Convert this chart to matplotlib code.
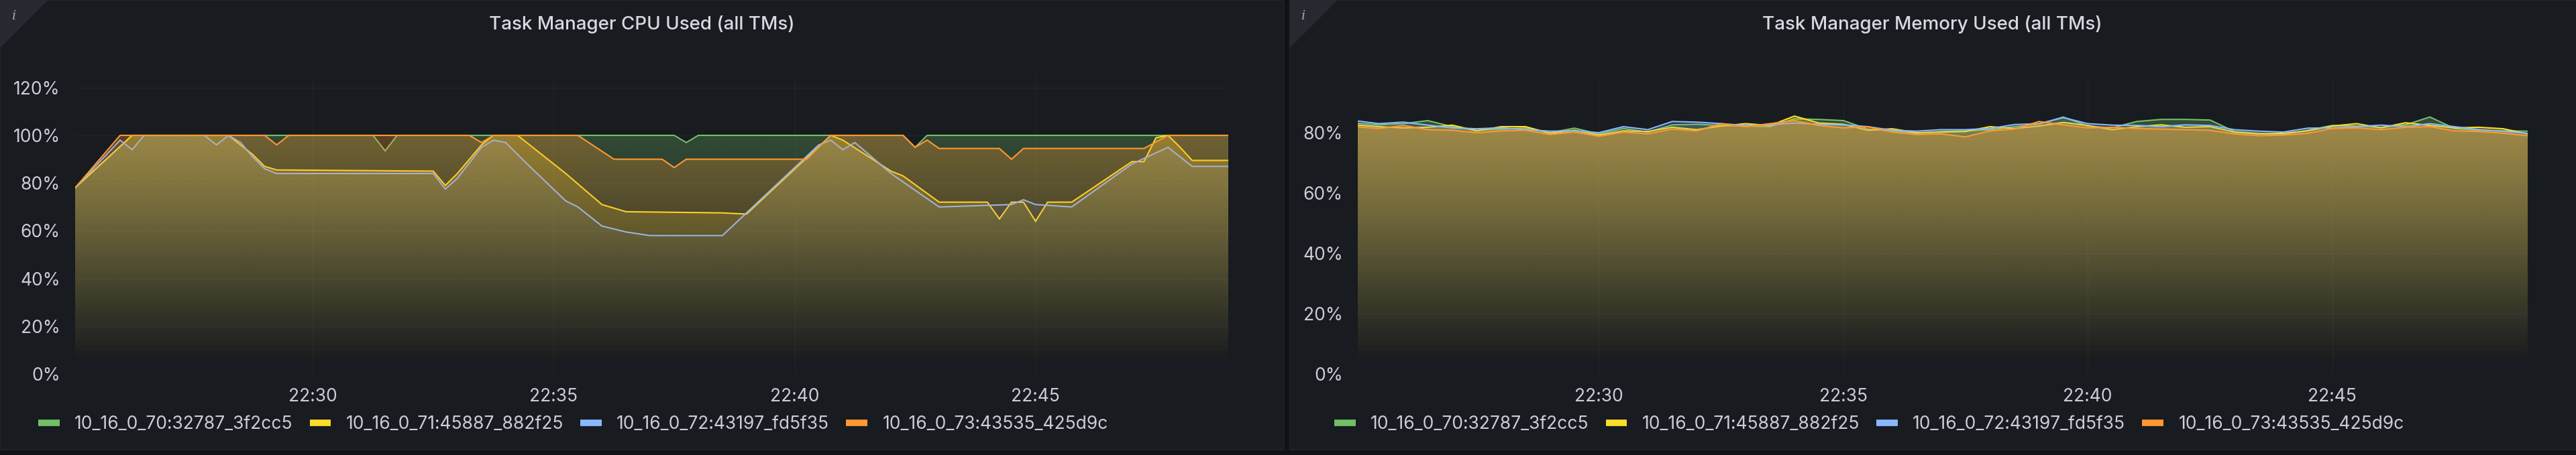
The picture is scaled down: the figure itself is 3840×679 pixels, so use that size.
import numpy as np
import matplotlib
matplotlib.use("Agg")
import matplotlib.pyplot as plt
from matplotlib.patches import Rectangle, Polygon, PathPatch
from matplotlib.lines import Line2D
from matplotlib.ticker import MultipleLocator, FuncFormatter
from matplotlib.colors import to_rgb

plt.rcParams['font.family'] = ['Inter', 'DejaVu Sans']

# series names and grafana classic palette
series_names = ["10_16_0_70:32787_3f2cc5", "10_16_0_71:45887_882f25",
                "10_16_0_72:43197_fd5f35", "10_16_0_73:43535_425d9c"]
series_colors = ["#73BF69", "#FADE2A", "#8AB8FF", "#FF9830"]

# ---- CPU used (%), breakpoints ----
cpu_70_t = ["22:25:04", "22:26:15", "22:31:15", "22:31:30", "22:31:45", "22:37:30", "22:37:45",
            "22:38:00", "22:42:15", "22:42:30", "22:42:45", "22:49:00"]
cpu_70_v = [78, 100, 100, 93.5, 100, 100, 97, 100, 100, 95, 100, 100]

cpu_71_t = ["22:25:04", "22:26:15", "22:28:15", "22:28:45", "22:29:00", "22:29:15", "22:32:30",
            "22:32:45", "22:33:00", "22:33:15", "22:33:30", "22:33:45", "22:34:15", "22:34:45",
            "22:35:15", "22:36:00", "22:36:30", "22:38:30", "22:39:00", "22:40:45", "22:41:00",
            "22:42:00", "22:42:15", "22:43:00", "22:44:00", "22:44:15", "22:44:30", "22:44:45",
            "22:45:00", "22:45:15", "22:45:45", "22:47:00", "22:47:15", "22:47:30", "22:47:45",
            "22:48:00", "22:48:15", "22:49:00"]
cpu_71_v = [78, 100, 100, 92, 87, 85.5, 85, 79, 84, 90, 96, 100, 100, 92,
            84, 71, 68, 67.5, 67, 100, 98, 85, 83, 72, 72, 65, 72, 72,
            64, 72, 72, 89, 89, 99, 100, 95, 89.5, 89.5]

cpu_72_t = ["22:25:04", "22:26:00", "22:26:15", "22:26:30", "22:27:45", "22:28:00", "22:28:15",
            "22:28:30", "22:28:45", "22:29:00", "22:29:15", "22:32:30", "22:32:45", "22:33:00",
            "22:33:30", "22:33:45", "22:34:00", "22:34:30", "22:35:15", "22:35:30", "22:36:00",
            "22:36:30", "22:37:00", "22:38:30", "22:40:30", "22:40:45", "22:41:00", "22:41:15",
            "22:42:00", "22:43:00", "22:44:30", "22:44:45", "22:45:00", "22:45:45", "22:47:00",
            "22:47:45", "22:48:15", "22:49:00"]
cpu_72_v = [78, 98, 94, 100, 100, 96, 100, 97, 91, 86, 84, 84, 77.5, 82,
            95, 98, 97, 87, 72.5, 70, 62, 59.5, 58, 58, 96, 98, 94, 97,
            84, 70, 71, 73, 71, 70, 88, 95, 87, 87]

cpu_73_t = ["22:25:04", "22:26:00", "22:29:00", "22:29:15", "22:29:30", "22:33:15", "22:33:30",
            "22:33:45", "22:35:30", "22:36:15", "22:37:15", "22:37:30", "22:37:45", "22:40:15",
            "22:40:45", "22:42:15", "22:42:30", "22:42:45", "22:43:00", "22:44:15", "22:44:30",
            "22:44:45", "22:47:15", "22:47:45", "22:49:00"]
cpu_73_v = [78, 100, 100, 96, 100, 100, 97, 100, 100, 90, 90, 86.5, 90, 90,
            100, 100, 95, 98, 94.5, 94.5, 90, 94.5, 94.5, 100, 100]

# ---- Memory used (%), sampled every 30 s from 22:25:00 ----
mem_start = "22:25:00"
mem_step_s = 30
mem_70 = [83.2, 82.6, 83.0, 84.0, 82.0, 80.8, 81.2, 81.5, 80.0, 81.5, 79.6, 81.4, 80.2, 82.6,
          82.8, 82.4, 82.2, 82.0, 84.6, 84.4, 84.0, 81.2, 80.6, 79.8, 80.4, 80.6, 81.0, 82.0,
          82.8, 85.2, 82.2, 81.6, 83.7, 84.4, 84.4, 84.2, 80.4, 79.8, 79.5, 80.8, 82.4, 82.2,
          81.8, 82.6, 85.2, 81.4, 80.8, 80.6, 80.5]
mem_71 = [82.6, 82.0, 81.6, 81.8, 82.5, 80.6, 82.0, 82.0, 79.8, 80.8, 79.2, 80.6, 80.4, 81.8,
          81.0, 82.2, 83.0, 82.4, 85.5, 83.2, 82.8, 80.8, 81.3, 80.0, 80.2, 80.4, 82.0, 81.4,
          82.2, 83.4, 82.4, 81.0, 82.0, 82.6, 81.8, 82.0, 80.2, 79.6, 79.8, 80.6, 82.2, 83.0,
          81.6, 83.3, 82.4, 81.6, 81.8, 81.3, 79.6]
mem_72 = [84.0, 83.0, 83.5, 82.5, 81.6, 81.3, 81.6, 81.0, 80.5, 80.6, 80.0, 82.0, 81.0, 83.7,
          83.5, 83.0, 82.4, 82.6, 83.2, 82.8, 82.6, 82.0, 80.8, 80.5, 81.0, 81.0, 81.4, 82.7,
          83.0, 85.0, 83.0, 82.5, 82.4, 82.0, 82.6, 82.4, 81.0, 80.5, 80.2, 81.5, 81.6, 82.0,
          82.5, 82.0, 83.0, 82.0, 81.0, 80.4, 79.8]
mem_73 = [82.0, 81.4, 82.4, 81.0, 80.8, 80.0, 80.6, 80.8, 79.4, 80.2, 78.8, 80.2, 79.6, 81.2,
          80.6, 83.0, 82.0, 83.0, 84.0, 82.4, 81.6, 82.0, 80.2, 79.4, 79.6, 78.6, 80.6, 81.2,
          83.7, 82.6, 81.6, 81.8, 81.4, 81.2, 81.0, 80.8, 79.6, 79.0, 79.2, 79.8, 81.4, 81.6,
          81.0, 81.8, 82.0, 80.6, 80.4, 79.8, 79.0]

range_from, range_to = "22:25:04", "22:49:00"


def to_min(s):
    # minutes after 22:25:00
    h, m, sec = [int(p) for p in s.split(":")]
    return (h * 60 + m + sec / 60.0) - (22 * 60 + 25)


W, H = 3840, 679
def fx(x):
    return x / W
def fy(y):
    return 1 - y / H

FS = 19
TXT = "#ccccdc"
PANEL = "#181b1f"
# per-series fill opacity at top of the plot (blue fill is faint in the screenshot)
fill_alpha = [0.38, 0.38, 0.20, 0.40]

fig = plt.figure(figsize=(W / 100, H / 100), dpi=100, facecolor="#111217")

# panel backgrounds + info corner
for x0, x1 in [(0, 1913), (1922, 3840)]:
    fig.add_artist(Rectangle((fx(x0), fy(671)), fx(x1 - x0), 671 / H, transform=fig.transFigure,
                             facecolor=PANEL, edgecolor="#22252b", lw=1, zorder=0))
    fig.add_artist(Polygon([(fx(x0), fy(0)), (fx(x0 + 72), fy(0)), (fx(x0), fy(72))],
                           closed=True, transform=fig.transFigure, facecolor="#262930",
                           edgecolor="none", zorder=0.5))
    fig.text(fx(x0 + 20), fy(24), "i", fontsize=14, color="#a4a6ae", ha="center", va="center",
             family=["DejaVu Serif"], style="italic")


def gradient_series(ax, x, y, color, top_alpha, z):
    ymax = ax.get_ylim()[1]
    xmin, xmax = ax.get_xlim()
    poly = ax.fill_between(x, y, 0, facecolor="none", edgecolor="none")
    grad = np.zeros((200, 1, 4))
    grad[:, :, :3] = to_rgb(color)
    grad[:, 0, 3] = np.linspace(0, 1, 200) ** 1.25 * top_alpha
    im = ax.imshow(grad, aspect="auto", origin="lower", extent=[xmin, xmax, 0, ymax],
                   interpolation="bilinear", zorder=z)
    clip = PathPatch(poly.get_paths()[0], transform=ax.transData, facecolor="none", edgecolor="none")
    ax.add_patch(clip)
    im.set_clip_path(clip)
    ax.plot(x, y, color=color, lw=1.5, zorder=z + 0.05, solid_joinstyle="miter")


def style_axes(ax, ytop, ystep, title, title_x, legend_x):
    ax.set_facecolor("none")
    ax.set_xlim(to_min(range_from), to_min(range_to))
    ax.set_ylim(0, ytop)
    for sp in ax.spines.values():
        sp.set_visible(False)
    ax.xaxis.set_major_locator(MultipleLocator(5))
    ax.yaxis.set_major_locator(MultipleLocator(ystep))
    ax.xaxis.set_major_formatter(FuncFormatter(
        lambda v, p: "%02d:%02d" % divmod(int(round(22 * 60 + 25 + v)), 60)))
    ax.yaxis.set_major_formatter(FuncFormatter(lambda v, p: "%d%%" % v))
    ax.tick_params(axis="both", length=0, labelsize=FS, labelcolor=TXT)
    ax.tick_params(axis="y", pad=16)
    ax.tick_params(axis="x", pad=15)
    ax.grid(True, color="#ffffff", alpha=0.04, lw=1)
    ax.set_axisbelow(True)
    fig.text(fx(title_x), fy(37), title, ha="center", va="center", fontsize=FS + 1, color="#d8d9e3",
             weight="medium")
    handles = [Line2D([], [], color=c, lw=7, solid_capstyle="butt") for c in series_colors]
    fig.legend(handles, series_names, loc="center left", bbox_to_anchor=(fx(legend_x), fy(633)),
               bbox_transform=fig.transFigure, ncol=4, frameon=False, fontsize=FS,
               labelcolor=TXT, handlelength=1.2, handletextpad=0.85, columnspacing=0.95,
               borderpad=0, borderaxespad=0)


bottom = fy(558)
height = (558 - 115) / H

# CPU panel
ax1 = fig.add_axes([fx(112), bottom, fx(1831 - 112), height])
style_axes(ax1, (558 - 115) / 3.56, 20, "Task Manager CPU Used (all TMs)", 957, 57)
cpu_t = [cpu_70_t, cpu_71_t, cpu_72_t, cpu_73_t]
cpu_v = [cpu_70_v, cpu_71_v, cpu_72_v, cpu_73_v]
for i in range(4):
    x = np.array([to_min(s) for s in cpu_t[i]])
    gradient_series(ax1, x, np.array(cpu_v[i]), series_colors[i], fill_alpha[i], 2 + i * 0.2)

# Memory panel
ax2 = fig.add_axes([fx(2024), bottom, fx(3768 - 2024), height])
style_axes(ax2, (558 - 115) / 4.5, 20, "Task Manager Memory Used (all TMs)", 2880, 1989)
mem_x = to_min(mem_start) + np.arange(len(mem_70)) * mem_step_s / 60.0
for i, vals in enumerate([mem_70, mem_71, mem_72, mem_73]):
    gradient_series(ax2, mem_x, np.array(vals), series_colors[i], fill_alpha[i], 2 + i * 0.2)

fig.savefig("out.png", dpi=100, facecolor=fig.get_facecolor())
